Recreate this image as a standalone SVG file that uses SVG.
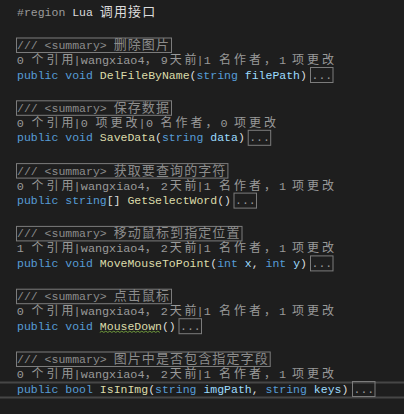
<svg xmlns="http://www.w3.org/2000/svg" width="404" height="414" viewBox="0 0 404 414">
<style>
text{white-space:pre}
.m{font-family:"Liberation Mono","DejaVu Sans Mono",monospace;font-size:11.5px}
.l{font-family:"Liberation Mono","DejaVu Sans Mono",monospace;font-size:11.8px;fill:#999999}
.c{font-family:"Noto Sans CJK SC","Noto Sans CJK JP",sans-serif;font-size:13px;letter-spacing:1.1px}
.lc{font-family:"Noto Sans CJK SC","Noto Sans CJK JP",sans-serif;font-size:12px;fill:#999999}
.kw{fill:#569cd6}
.fn{fill:#dcdcaa}
.pu{fill:#dcdcdc}
.pa{fill:#9cdcfe}
.cm{fill:#8c8c8c}
.box{fill:none;stroke:#7c7c7c;stroke-width:1}
.dots{fill:#999999}
</style>
<rect x="0" y="0" width="404" height="414" fill="#1e1e1e"/>
<rect x="-2" y="382.5" width="408" height="15" fill="none" stroke="#464646" stroke-width="2"/>

<g id="region">
<text class="m" x="17" y="16"><tspan fill="#9b9b9b">#region </tspan><tspan fill="#dcdcdc">Lua </tspan><tspan class="c" fill="#dcdcdc">调用接口</tspan></text>
</g>

<g id="block1">
<rect class="box" x="16.5" y="38" width="155" height="14.5"/>
<text class="m cm" x="17" y="49">/// &lt;summary&gt; <tspan class="c">删除图片</tspan></text>
<text class="l" y="64"><tspan x="16.8">0</tspan><tspan class="lc" x="31.5 46.5 61.5">个引用</tspan><tspan x="73.6">|</tspan><tspan x="80.8">wangxiao4</tspan><tspan class="lc" x="144.7">，</tspan><tspan x="160.8">9</tspan><tspan class="lc" x="169.7 184.5">天前</tspan><tspan x="196.5">|</tspan><tspan x="203.7">1</tspan><tspan class="lc" x="219 234 249 264">名作者，</tspan><tspan x="279">1</tspan><tspan class="lc" x="292 307 322">项更改</tspan></text>
<text class="m" x="17" y="78.5"><tspan class="kw">public void</tspan> <tspan class="fn">DelFileByName</tspan><tspan class="pu">(</tspan><tspan class="kw">string</tspan> <tspan class="pa">filePath</tspan><tspan class="pu">)</tspan></text>
<rect class="box" x="310.5" y="67.5" width="22.5" height="15"/>
<text class="m dots" x="311.5" y="78.5">...</text>
</g>

<g id="block2">
<rect class="box" x="16.5" y="100.8" width="155" height="14.5"/>
<text class="m cm" x="17" y="111.8">/// &lt;summary&gt; <tspan class="c">保存数据</tspan></text>
<text class="l" y="126.8"><tspan x="16.8">0</tspan><tspan class="lc" x="31.5 46.5 61.5">个引用</tspan><tspan x="73.6">|</tspan><tspan x="80.8">0</tspan><tspan class="lc" x="95.5 110.5 125.5">项更改</tspan><tspan x="138.5">|</tspan><tspan x="146">0</tspan><tspan class="lc" x="160.5 175.5 190.5 205.5">名作者，</tspan><tspan x="220.5">0</tspan><tspan class="lc" x="234 249 264">项更改</tspan></text>
<text class="m" x="17" y="141.3"><tspan class="kw">public void</tspan> <tspan class="fn">SaveData</tspan><tspan class="pu">(</tspan><tspan class="kw">string</tspan> <tspan class="pa">data</tspan><tspan class="pu">)</tspan></text>
<rect class="box" x="248.2" y="130.3" width="22.5" height="15"/>
<text class="m dots" x="249.2" y="141.3">...</text>
</g>

<g id="block3">
<rect class="box" x="16.5" y="163.6" width="211.4" height="14.5"/>
<text class="m cm" x="17" y="174.6">/// &lt;summary&gt; <tspan class="c">获取要查询的字符</tspan></text>
<text class="l" y="189.6"><tspan x="16.8">0</tspan><tspan class="lc" x="31.5 46.5 61.5">个引用</tspan><tspan x="73.6">|</tspan><tspan x="80.8">wangxiao4</tspan><tspan class="lc" x="144.7">，</tspan><tspan x="160.8">2</tspan><tspan class="lc" x="169.7 184.5">天前</tspan><tspan x="196.5">|</tspan><tspan x="203.7">1</tspan><tspan class="lc" x="219 234 249 264">名作者，</tspan><tspan x="279">1</tspan><tspan class="lc" x="292 307 322">项更改</tspan></text>
<text class="m" x="17" y="204.1"><tspan class="kw">public string</tspan><tspan class="pu">[]</tspan> <tspan class="fn">GetSelectWord</tspan><tspan class="pu">()</tspan></text>
<rect class="box" x="234" y="193.1" width="22.5" height="15"/>
<text class="m dots" x="235" y="204.1">...</text>
</g>

<g id="block4">
<rect class="box" x="16.5" y="226.4" width="225.5" height="14.5"/>
<text class="m cm" x="17" y="237.4">/// &lt;summary&gt; <tspan class="c">移动鼠标到指定位置</tspan></text>
<text class="l" y="252.4"><tspan x="16.8">1</tspan><tspan class="lc" x="31.5 46.5 61.5">个引用</tspan><tspan x="73.6">|</tspan><tspan x="80.8">wangxiao4</tspan><tspan class="lc" x="144.7">，</tspan><tspan x="160.8">2</tspan><tspan class="lc" x="169.7 184.5">天前</tspan><tspan x="196.5">|</tspan><tspan x="203.7">1</tspan><tspan class="lc" x="219 234 249 264">名作者，</tspan><tspan x="279">1</tspan><tspan class="lc" x="292 307 322">项更改</tspan></text>
<text class="m" x="17" y="266.9"><tspan class="kw">public void</tspan> <tspan class="fn">MoveMouseToPoint</tspan><tspan class="pu">(</tspan><tspan class="kw">int</tspan> <tspan class="pa">x</tspan><tspan class="pu">,</tspan> <tspan class="kw">int</tspan> <tspan class="pa">y</tspan><tspan class="pu">)</tspan></text>
<rect class="box" x="310.5" y="255.9" width="22.5" height="15"/>
<text class="m dots" x="311.5" y="266.9">...</text>
</g>

<g id="block5">
<rect class="box" x="16.5" y="289.2" width="155" height="14.5"/>
<text class="m cm" x="17" y="300.2">/// &lt;summary&gt; <tspan class="c">点击鼠标</tspan></text>
<text class="l" y="315.2"><tspan x="16.8">0</tspan><tspan class="lc" x="31.5 46.5 61.5">个引用</tspan><tspan x="73.6">|</tspan><tspan x="80.8">wangxiao4</tspan><tspan class="lc" x="144.7">，</tspan><tspan x="160.8">2</tspan><tspan class="lc" x="169.7 184.5">天前</tspan><tspan x="196.5">|</tspan><tspan x="203.7">1</tspan><tspan class="lc" x="219 234 249 264">名作者，</tspan><tspan x="279">1</tspan><tspan class="lc" x="292 307 322">项更改</tspan></text>
<text class="m" x="17" y="329.7"><tspan class="kw">public void</tspan> <tspan class="fn">MouseDown</tspan><tspan class="pu">()</tspan></text>
<path d="M99.8 332.4 l2 -1.2 l2 1.2 l2 -1.2 l2 1.2 l2 -1.2 l2 1.2 l2 -1.2 l2 1.2 l2 -1.2 l2 1.2 l2 -1.2 l2 1.2 l2 -1.2 l2 1.2 l2 -1.2 l2 1.2 l2 -1.2 l2 1.2 l2 -1.2 l2 1.2 l2 -1.2 l2 1.2 l2 -1.2 l2 1.2 l2 -1.2 l2 1.2 l2 -1.2 l2 1.2 l2 -1.2 l2 1.2" fill="none" stroke="#6f9a3c" stroke-width="1"/>
<rect class="box" x="179" y="318.7" width="22.5" height="15"/>
<text class="m dots" x="180" y="329.7">...</text>
</g>

<g id="block6">
<rect class="box" x="16.5" y="352" width="253.7" height="14.5"/>
<text class="m cm" x="17" y="363">/// &lt;summary&gt; <tspan class="c">图片中是否包含指定字段</tspan></text>
<text class="l" y="378"><tspan x="16.8">0</tspan><tspan class="lc" x="31.5 46.5 61.5">个引用</tspan><tspan x="73.6">|</tspan><tspan x="80.8">wangxiao4</tspan><tspan class="lc" x="144.7">，</tspan><tspan x="160.8">2</tspan><tspan class="lc" x="169.7 184.5">天前</tspan><tspan x="196.5">|</tspan><tspan x="203.7">1</tspan><tspan class="lc" x="219 234 249 264">名作者，</tspan><tspan x="279">1</tspan><tspan class="lc" x="292 307 322">项更改</tspan></text>
<text class="m" x="17" y="392.5"><tspan class="kw">public bool</tspan> <tspan class="fn">IsInImg</tspan><tspan class="pu">(</tspan><tspan class="kw">string</tspan> <tspan class="pa">imgPath</tspan><tspan class="pu">,</tspan> <tspan class="kw">string</tspan> <tspan class="pa">keys</tspan><tspan class="pu">)</tspan></text>
<rect class="box" x="352.5" y="381.5" width="22.5" height="15"/>
<text class="m dots" x="353.5" y="392.5">...</text>
</g>
</svg>
